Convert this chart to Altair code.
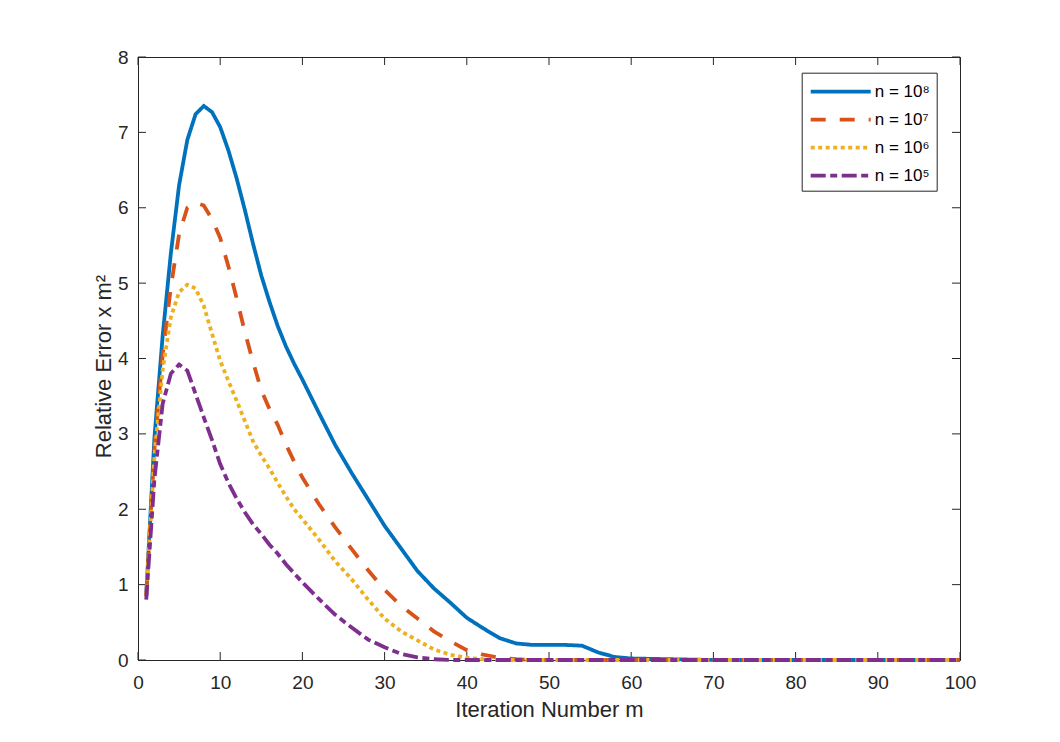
import altair as alt
import pandas as pd

# ---------------- data ----------------
m = list(range(1, 21)) + list(range(22, 61, 2)) + [70, 80, 90, 100]

labels = ["n = 10⁸", "n = 10⁷", "n = 10⁶", "n = 10⁵"]

err_1e8 = [0.85, 2.95, 4.3, 5.4, 6.3, 6.9, 7.24, 7.35, 7.27, 7.07,
           6.76, 6.39, 5.97, 5.52, 5.1, 4.75, 4.43, 4.16, 3.93, 3.72,
           3.28, 2.85, 2.48, 2.13, 1.78, 1.48, 1.18, 0.95, 0.76, 0.56,
           0.42, 0.29, 0.22, 0.2, 0.2, 0.2, 0.19, 0.1, 0.04, 0.02,
           0.0, 0.0, 0.0, 0.0]
err_1e7 = [0.85, 2.8, 4.05, 4.95, 5.65, 6.0, 6.07, 6.03, 5.85, 5.6,
           5.22, 4.8, 4.35, 3.95, 3.58, 3.33, 3.12, 2.86, 2.63, 2.42,
           2.07, 1.76, 1.47, 1.19, 0.93, 0.72, 0.55, 0.38, 0.25, 0.13,
           0.07, 0.03, 0.01, 0.0, 0.0, 0.0, 0.0, 0.0, 0.0, 0.0,
           0.0, 0.0, 0.0, 0.0]
err_1e6 = [0.85, 2.7, 3.85, 4.55, 4.88, 4.98, 4.93, 4.7, 4.33, 3.97,
           3.7, 3.44, 3.17, 2.9, 2.71, 2.54, 2.35, 2.17, 2.0, 1.87,
           1.6, 1.31, 1.07, 0.8, 0.55, 0.38, 0.26, 0.14, 0.07, 0.03,
           0.01, 0.0, 0.0, 0.0, 0.0, 0.0, 0.0, 0.0, 0.0, 0.0,
           0.0, 0.0, 0.0, 0.0]
err_1e5 = [0.8, 2.4, 3.4, 3.8, 3.92, 3.84, 3.53, 3.22, 2.92, 2.6,
           2.35, 2.14, 1.96, 1.8, 1.67, 1.53, 1.41, 1.27, 1.15, 1.03,
           0.81, 0.6, 0.43, 0.27, 0.17, 0.08, 0.035, 0.01, 0.0, 0.0,
           0.0, 0.0, 0.0, 0.0, 0.0, 0.0, 0.0, 0.0, 0.0, 0.0,
           0.0, 0.0, 0.0, 0.0]

x_ticks = [0, 10, 20, 30, 40, 50, 60, 70, 80, 90, 100]
y_ticks = [0, 1, 2, 3, 4, 5, 6, 7, 8]

# ---------------- styles ----------------
colors = ["#0072BD", "#D95319", "#EDB120", "#7E2F8E"]
dashes = [[1, 0], [15, 14], [4, 3.5], [15, 4.5, 7, 4.5]]
AX = "#262626"
FONT = "Liberation Sans"
W, H = 822, 603
TICK = 8
LW = 3.8

rows = []
for lab, vals in zip(labels, [err_1e8, err_1e7, err_1e6, err_1e5]):
    for mm, v in zip(m, vals):
        rows.append({"m": mm, "err": v, "series": lab})
df = pd.DataFrame(rows)

xs = alt.Scale(domain=[0, 100], nice=False, zero=False)
ysc = alt.Scale(domain=[0, 8], nice=False, zero=False)

x_axis = alt.Axis(values=x_ticks, title="Iteration Number m", labelFlush=False,
                  labelPadding=28, labelBaseline="alphabetic",
                  titleY=56, titleBaseline="alphabetic")
y_axis = alt.Axis(values=y_ticks, title="Relative Error x m²", labelFlush=False,
                  labelPadding=10, titleAngle=270, titleX=-28, titleY=309,
                  titleBaseline="alphabetic", titleAlign="center")

X = alt.X("m:Q", scale=xs, axis=x_axis)
Y = alt.Y("err:Q", scale=ysc, axis=y_axis)

lines = alt.Chart(df).mark_line(strokeWidth=LW, strokeCap="butt", clip=False).encode(
    x=X, y=Y,
    color=alt.Color("series:N", scale=alt.Scale(domain=labels, range=colors),
                    legend=alt.Legend(title=None)),
    strokeDash=alt.StrokeDash("series:N", scale=alt.Scale(domain=labels, range=dashes),
                              legend=alt.Legend(title=None)),
)

xt = pd.DataFrame({"m": x_ticks})
yt = pd.DataFrame({"err": y_ticks})

tick_bottom = alt.Chart(xt).mark_rule(color=AX, strokeWidth=1).encode(
    x=X, y=alt.value(H), y2=alt.value(H - TICK))
tick_top = alt.Chart(xt).mark_rule(color=AX, strokeWidth=1).encode(
    x=X, y=alt.value(0), y2=alt.value(TICK))
tick_left = alt.Chart(yt).mark_rule(color=AX, strokeWidth=1).encode(
    y=Y, x=alt.value(0), x2=alt.value(TICK))
tick_right = alt.Chart(yt).mark_rule(color=AX, strokeWidth=1).encode(
    y=Y, x=alt.value(W), x2=alt.value(W - TICK))

chart = alt.layer(tick_bottom, tick_top, tick_left, tick_right, lines).properties(
    width=W, height=H,
    autosize=alt.AutoSizeParams(type="none"),
    padding={"left": 130, "top": 49, "right": 60, "bottom": 70},
    background="white",
).configure_view(
    stroke=AX, strokeWidth=1
).configure_axis(
    domainColor=AX, domainWidth=1, ticks=False, tickSize=0, grid=False,
    labelFont=FONT, labelFontSize=19, labelColor=AX,
    titleFont=FONT, titleFontSize=22, titleColor=AX, titleFontWeight="normal",
).configure_legend(
    orient="none", legendX=663.7, legendY=15.7,
    symbolType="M-1,0L5,0", symbolSize=400, symbolStrokeWidth=LW,
    labelFont=FONT, labelFontSize=17, labelColor="#000000",
    labelOffset=42, rowPadding=8, padding=7,
    strokeColor=AX, fillColor="white", cornerRadius=0,
)

chart.save("out.html", embed_options={"renderer": "svg", "actions": False})
